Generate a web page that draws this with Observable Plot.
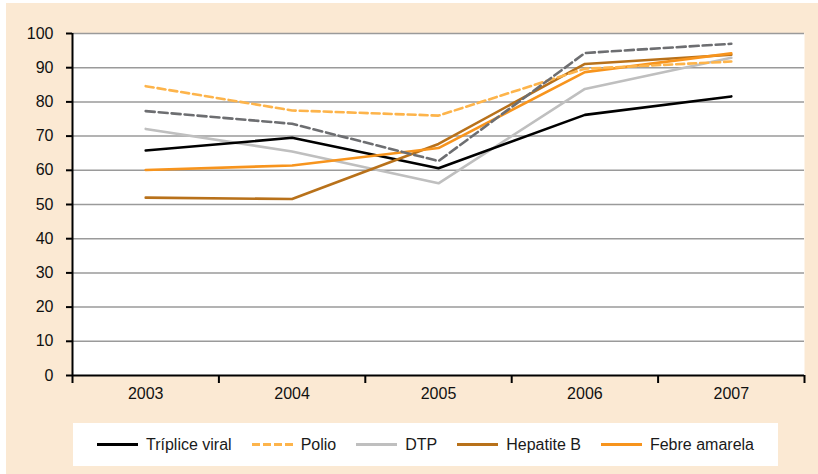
<!DOCTYPE html>
<html><head><meta charset="utf-8">
<script src="https://cdn.jsdelivr.net/npm/d3@7"></script>
<script src="https://cdn.jsdelivr.net/npm/@observablehq/plot@0.6"></script>
<style>
body{margin:0;background:#fff;font-family:"Liberation Sans",Arial,sans-serif;}
#wrap{position:relative;width:818px;height:474px;overflow:hidden;}
#bg{position:absolute;left:6px;top:3px;width:812px;height:471px;background:#FBE9D3;}
#chart{position:absolute;left:0;top:0;}
#chart svg text{font-size:16px;}
#legend{position:absolute;left:73px;top:423px;width:705px;height:43px;background:#fff;display:flex;align-items:center;justify-content:center;gap:20px;font-size:16px;color:#1a1a1a;}
.item{display:flex;align-items:center;gap:8px}
.sw{width:41px;height:0;border-top-width:3px;border-top-style:solid}
</style>
</head><body>
<div id="wrap"><div id="bg"></div><div id="chart"></div><div id="legend"></div></div>
<script>
const years = [2003, 2004, 2005, 2006, 2007];
const tripliceViral = [65.8, 69.5, 60.6, 76.2, 81.6];
const polio = [84.6, 77.5, 76.0, 89.7, 91.8];
const dtp = [72.1, 65.5, 56.2, 83.8, 92.9];
const hepatiteB = [52.0, 51.6, 67.7, 91.1, 93.8];
const febreAmarela = [60.1, 61.4, 66.5, 88.7, 94.2];
const outra = [77.3, 73.6, 62.7, 94.3, 97.0];
const yTicks = [0, 10, 20, 30, 40, 50, 60, 70, 80, 90, 100];

const series = [
  {name: "DTP", values: dtp, color: "#BFBFBF", dash: null, legend: true},
  {name: "Tríplice viral", values: tripliceViral, color: "#000000", dash: null, legend: true},
  {name: "Hepatite B", values: hepatiteB, color: "#B8711A", dash: null, legend: true},
  {name: "Febre amarela", values: febreAmarela, color: "#F7941D", dash: null, legend: true},
  {name: "Polio", values: polio, color: "#FDB44B", dash: "8,4", legend: true},
  {name: "Outra", values: outra, color: "#6D6E71", dash: "9,4", legend: false}
];
const legendOrder = ["Tríplice viral", "Polio", "DTP", "Hepatite B", "Febre amarela"];

const bounds = years.map(y => y - 0.5).concat([years[years.length - 1] + 0.5]);

const lineMarks = series.map(s =>
  Plot.line(years.map((y, i) => ({year: y, value: s.values[i]})), {
    x: "year", y: "value", stroke: s.color, strokeWidth: 2.6,
    strokeDasharray: s.dash || undefined, strokeLinejoin: "miter"
  })
);

const chart = Plot.plot({
  width: 818, height: 410,
  marginLeft: 72, marginRight: 14, marginTop: 33, marginBottom: 35,
  style: {background: "transparent", fontFamily: "'Liberation Sans', Arial, sans-serif", fontSize: "16px", color: "#111"},
  x: {type: "linear", domain: [bounds[0], bounds[bounds.length - 1]], label: null},
  y: {domain: [0, 100], label: null},
  marks: [
    Plot.frame({fill: "white", stroke: "none"}),
    Plot.ruleY(yTicks.filter(d => d > 0), {stroke: "#9a9a9a", strokeWidth: 1.5}),
    ...lineMarks,
    Plot.ruleY([0], {stroke: "black", strokeWidth: 2}),
    Plot.ruleX([bounds[0]], {stroke: "black", strokeWidth: 2}),
    Plot.axisY(yTicks, {tickSize: 6, tickPadding: 13, fontSize: 16, strokeWidth: 2, stroke: "black", label: null, tickFormat: d => String(d)}),
    Plot.axisX(bounds, {tickSize: 8, tickFormat: () => "", strokeWidth: 2, stroke: "black", label: null}),
    Plot.axisX(years, {tickSize: 0, tickPadding: 12, fontSize: 16, label: null, tickFormat: d => String(d)})
  ]
});
document.getElementById("chart").appendChild(chart);

const legend = document.getElementById("legend");
legendOrder.forEach(n => {
  const s = series.find(d => d.name === n);
  const it = document.createElement("div");
  it.className = "item";
  const sw = document.createElement("span");
  sw.className = "sw";
  sw.style.borderTopColor = s.color;
  if (s.dash) {
    sw.style.borderTopStyle = "none";
    sw.style.height = "3px";
    sw.style.background = `repeating-linear-gradient(90deg, ${s.color} 0 8px, transparent 8px 11px)`;
  }
  const tx = document.createElement("span");
  tx.textContent = s.name;
  it.appendChild(sw); it.appendChild(tx);
  legend.appendChild(it);
});
</script>
</body></html>
